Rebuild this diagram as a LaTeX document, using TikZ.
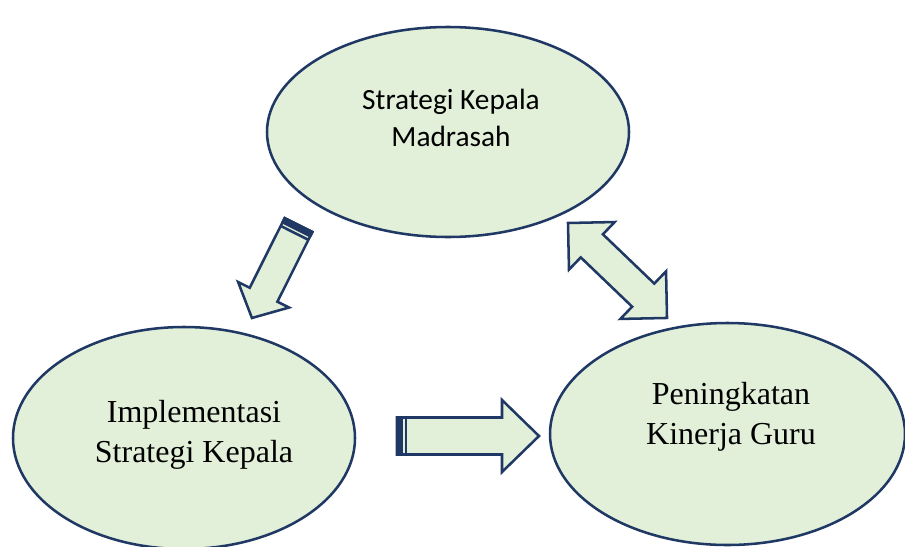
\documentclass[tikz,border=0pt]{standalone}
\usepackage{fontspec}
\setmainfont{Liberation Serif}
\newfontfamily\calibrifont{Carlito}
\usetikzlibrary{shapes.geometric}
\definecolor{navy}{HTML}{1F3864}
\definecolor{pale}{HTML}{E2EFD9}
\tikzset{
  bubble/.style={ellipse, draw=navy, fill=pale, line width=1.9pt, inner sep=0pt},
  arrowline/.style={draw=navy, fill=pale, line width=1.9pt, line join=miter},
  pics/stripedarrow/.style n args={4}{code={
    \path[arrowline] (0,-#2) -- ({#1-#4},-#2) -- ({#1-#4},-#3) -- (#1,0) -- ({#1-#4},#3) -- ({#1-#4},#2) -- (0,#2) -- cycle;
    \fill[navy] (-1.2,{-#2-1.2}) rectangle (6,{#2+1.2});
    \draw[navy, line width=1.9pt] (8.8,-#2) -- (8.8,#2);
  }},
  pics/doublearrow/.style n args={4}{code={
    \path[arrowline] (0,0) -- (#4,-#3) -- (#4,-#2) -- ({#1-#4},-#2) -- ({#1-#4},-#3) -- (#1,0) -- ({#1-#4},#3) -- ({#1-#4},#2) -- (#4,#2) -- (#4,#3) -- cycle;
  }},
  serifline/.style={font=\fontsize{24}{30}\selectfont, inner sep=0pt, anchor=base},
  sansline/.style={font=\calibrifont\fontsize{22}{27.75}\selectfont, inner sep=0pt, anchor=base},
}
\begin{document}
\begin{tikzpicture}[x=0.75pt, y=-0.75pt]
\useasboundingbox (0,0) rectangle (905,546);
% ellipses
\node[bubble, minimum width=271.5pt, minimum height=157.5pt] (top) at (448,132) {};
\node[bubble, minimum width=256.5pt, minimum height=166.5pt] (left) at (184,438) {};
\node[bubble, minimum width=266.25pt, minimum height=166.5pt] (right) at (727.5,434) {};
% texts
\node[sansline] (ttop) at (451,109) {\begin{tabular}[t]{@{}c@{}}Strategi Kepala\\Madrasah\end{tabular}};
\node[serifline] (tleft) at (194,422) {\begin{tabular}[t]{@{}c@{}}Implementasi\\Strategi Kepala\end{tabular}};
\node[serifline] (tright) at (731,404) {\begin{tabular}[t]{@{}c@{}}Peningkatan\\Kinerja Guru\end{tabular}};
% block arrows
\pic[rotate=-116.6] at (298.5,225) {stripedarrow={104}{15.5}{28.5}{26}};
\pic at (397,436) {stripedarrow={142}{18.5}{36}{37}};
\pic[rotate=-43.8] at (568,223) {doublearrow={137.2}{16}{33}{33}};
\end{tikzpicture}
\end{document}
